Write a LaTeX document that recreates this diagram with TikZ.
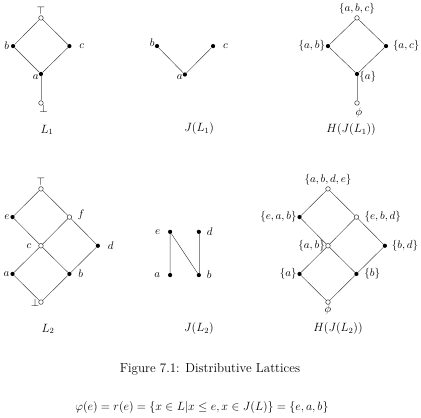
\documentclass[tikz,border=0pt]{standalone}
\usepackage{amsmath,amssymb}
\usepackage{tikz}
\usetikzlibrary{positioning}
\tikzset{
  fullpt/.style={circle,fill=black,inner sep=0pt,minimum size=4.2pt},
  openpt/.style={circle,draw=black!80,fill=white,inner sep=0pt,minimum size=4.6pt,line width=0.5pt},
  latedge/.style={draw=black!75,line width=0.45pt},
  faintedge/.style={draw=black!45,line width=0.45pt},
  ptlabel/.style={font=\fontsize{11}{13}\selectfont,inner sep=1.5pt},
  figurelabel/.style={font=\fontsize{11.5}{13}\selectfont,align=center}
}
\begin{document}
\begin{tikzpicture}[x=1cm,y=1cm]
  \useasboundingbox (0,0) rectangle (14.8,-14.66);
  % L_1
  \node[openpt] (T1) at (1.44,-0.63) {};
  \node[fullpt] (b1) at (0.46,-1.62) {};
  \node[fullpt] (c1) at (2.44,-1.62) {};
  \node[fullpt] (a1) at (1.44,-2.60) {};
  \node[openpt] (B1) at (1.44,-3.62) {};
  \draw[latedge] (T1) -- (b1) -- (a1) -- (c1) -- (T1);
  \draw[faintedge] (a1) -- (B1);
  \node[ptlabel,above=-1pt of T1] {$\top$};
  \node[ptlabel,left=0pt of b1] {$b$};
  \node[ptlabel,right=6pt of c1] {$c$};
  \node[ptlabel,below left=-3pt and -1pt of a1] {$a$};
  \node[ptlabel,below right=-2pt and -5pt of B1] {$\bot$};
  \node[figurelabel] (nameL1) at (1.65,-4.57) {$L_1$};
  % J(L_1)
  \node[fullpt] (jb1) at (5.52,-1.62) {};
  \node[fullpt] (ja1) at (6.50,-2.62) {};
  \node[fullpt] (jc1) at (7.49,-1.62) {};
  \draw[latedge] (jb1) -- (ja1) -- (jc1);
  \node[ptlabel,above left=-4pt and -1pt of jb1] {$b$};
  \node[ptlabel,right=6pt of jc1] {$c$};
  \node[ptlabel,below left=-3pt and -1pt of ja1] {$a$};
  \node[figurelabel] (nameJ1) at (7.0,-4.53) {$J(L_1)$};
  % H(J(L_1))
  \node[openpt] (hT1) at (12.55,-0.63) {};
  \node[fullpt] (hab1) at (11.53,-1.62) {};
  \node[fullpt] (hac1) at (13.57,-1.62) {};
  \node[fullpt] (ha1) at (12.55,-2.60) {};
  \node[openpt] (hB1) at (12.55,-3.62) {};
  \draw[latedge] (hT1) -- (hab1) -- (ha1) -- (hac1) -- (hT1);
  \draw[faintedge] (ha1) -- (hB1);
  \node[ptlabel,above=-1pt of hT1] {$\{a,b,c\}$};
  \node[ptlabel,left=-1pt of hab1] {$\{a,b\}$};
  \node[ptlabel,right=3pt of hac1] {$\{a,c\}$};
  \node[ptlabel,below right=-6pt and -1pt of ha1] {$\{a\}$};
  \node[ptlabel,below right=1pt and -5pt of hB1] {$\phi$};
  \node[figurelabel] (nameH1) at (12.34,-4.57) {$H(J(L_1))$};
  % L_2
  \node[openpt] (T2) at (1.44,-6.64) {};
  \node[fullpt] (e2) at (0.44,-7.63) {};
  \node[openpt] (f2) at (2.44,-7.63) {};
  \node[openpt] (c2) at (1.44,-8.64) {};
  \node[fullpt] (d2) at (3.44,-8.64) {};
  \node[fullpt] (a2) at (0.44,-9.63) {};
  \node[fullpt] (b2) at (2.44,-9.63) {};
  \node[openpt] (B2) at (1.44,-10.62) {};
  \draw[latedge] (T2) -- (e2) -- (c2) -- (b2) -- (B2) -- (a2) -- (c2) -- (f2) -- (T2);
  \draw[latedge] (f2) -- (d2) -- (b2);
  \node[ptlabel,above=-1pt of T2] {$\top$};
  \node[ptlabel,left=-1pt of e2] {$e$};
  \node[ptlabel,above right=-6pt and 5pt of f2] {$f$};
  \node[ptlabel,below left=-5pt and 6pt of c2] {$c$};
  \node[ptlabel,right=6pt of d2] {$d$};
  \node[ptlabel,left=-1pt of a2] {$a$};
  \node[ptlabel,right=5pt of b2] {$b$};
  \node[ptlabel,below left=-7pt and -2pt of B2] {$\bot$};
  \node[figurelabel] (nameL2) at (1.69,-11.56) {$L_2$};
  % J(L_2)
  \node[fullpt] (je2) at (5.98,-8.15) {};
  \node[fullpt] (jd2) at (6.99,-8.15) {};
  \node[fullpt] (ja2) at (5.98,-9.67) {};
  \node[fullpt] (jb2) at (6.99,-9.67) {};
  \draw[latedge] (ja2) -- (je2) -- (jb2);
  \draw[faintedge] (jd2) -- (jb2);
  \node[ptlabel,left=6pt of je2] {$e$};
  \node[ptlabel,right=4pt of jd2] {$d$};
  \node[ptlabel,left=6pt of ja2] {$a$};
  \node[ptlabel,right=4pt of jb2] {$b$};
  \node[figurelabel] (nameJ2) at (6.99,-11.56) {$J(L_2)$};
  % H(J(L_2))
  \node[openpt] (hT2) at (11.53,-6.64) {};
  \node[fullpt] (heab2) at (10.53,-7.63) {};
  \node[openpt] (hebd2) at (12.53,-7.63) {};
  \node[openpt] (hab2) at (11.53,-8.64) {};
  \node[fullpt] (hbd2) at (13.53,-8.64) {};
  \node[fullpt] (ha2) at (10.53,-9.63) {};
  \node[fullpt] (hb2) at (12.53,-9.63) {};
  \node[openpt] (hB2) at (11.53,-10.62) {};
  \draw[latedge] (hT2) -- (heab2) -- (hab2) -- (hb2) -- (hB2) -- (ha2) -- (hab2) -- (hebd2) -- (hT2);
  \draw[latedge] (hebd2) -- (hbd2) -- (hb2);
  \node[ptlabel,above=-1pt of hT2] {$\{a,b,d,e\}$};
  \node[ptlabel,left=-1pt of heab2] {$\{e,a,b\}$};
  \node[ptlabel,right=4pt of hebd2] {$\{e,b,d\}$};
  \node[ptlabel,left=-1pt of hab2] {$\{a,b\}$};
  \node[ptlabel,right=3pt of hbd2] {$\{b,d\}$};
  \node[ptlabel,left=-1pt of ha2] {$\{a\}$};
  \node[ptlabel,right=4pt of hb2] {$\{b\}$};
  \node[ptlabel,below=-1pt of hB2] {$\phi$};
  \node[figurelabel] (nameH2) at (11.88,-11.56) {$H(J(L_2))$};
  % caption and formula
  \node[figurelabel,font=\fontsize{13}{15}\selectfont] (caption) at (7.38,-12.97) {Figure 7.1: Distributive Lattices};
  \node[figurelabel] (formula) at (7.1,-14.34)
    {$\varphi(e)=r(e)=\{x\in L|x\leq e,x\in J(L)\}=\{e,a,b\}$};
\end{tikzpicture}
\end{document}
